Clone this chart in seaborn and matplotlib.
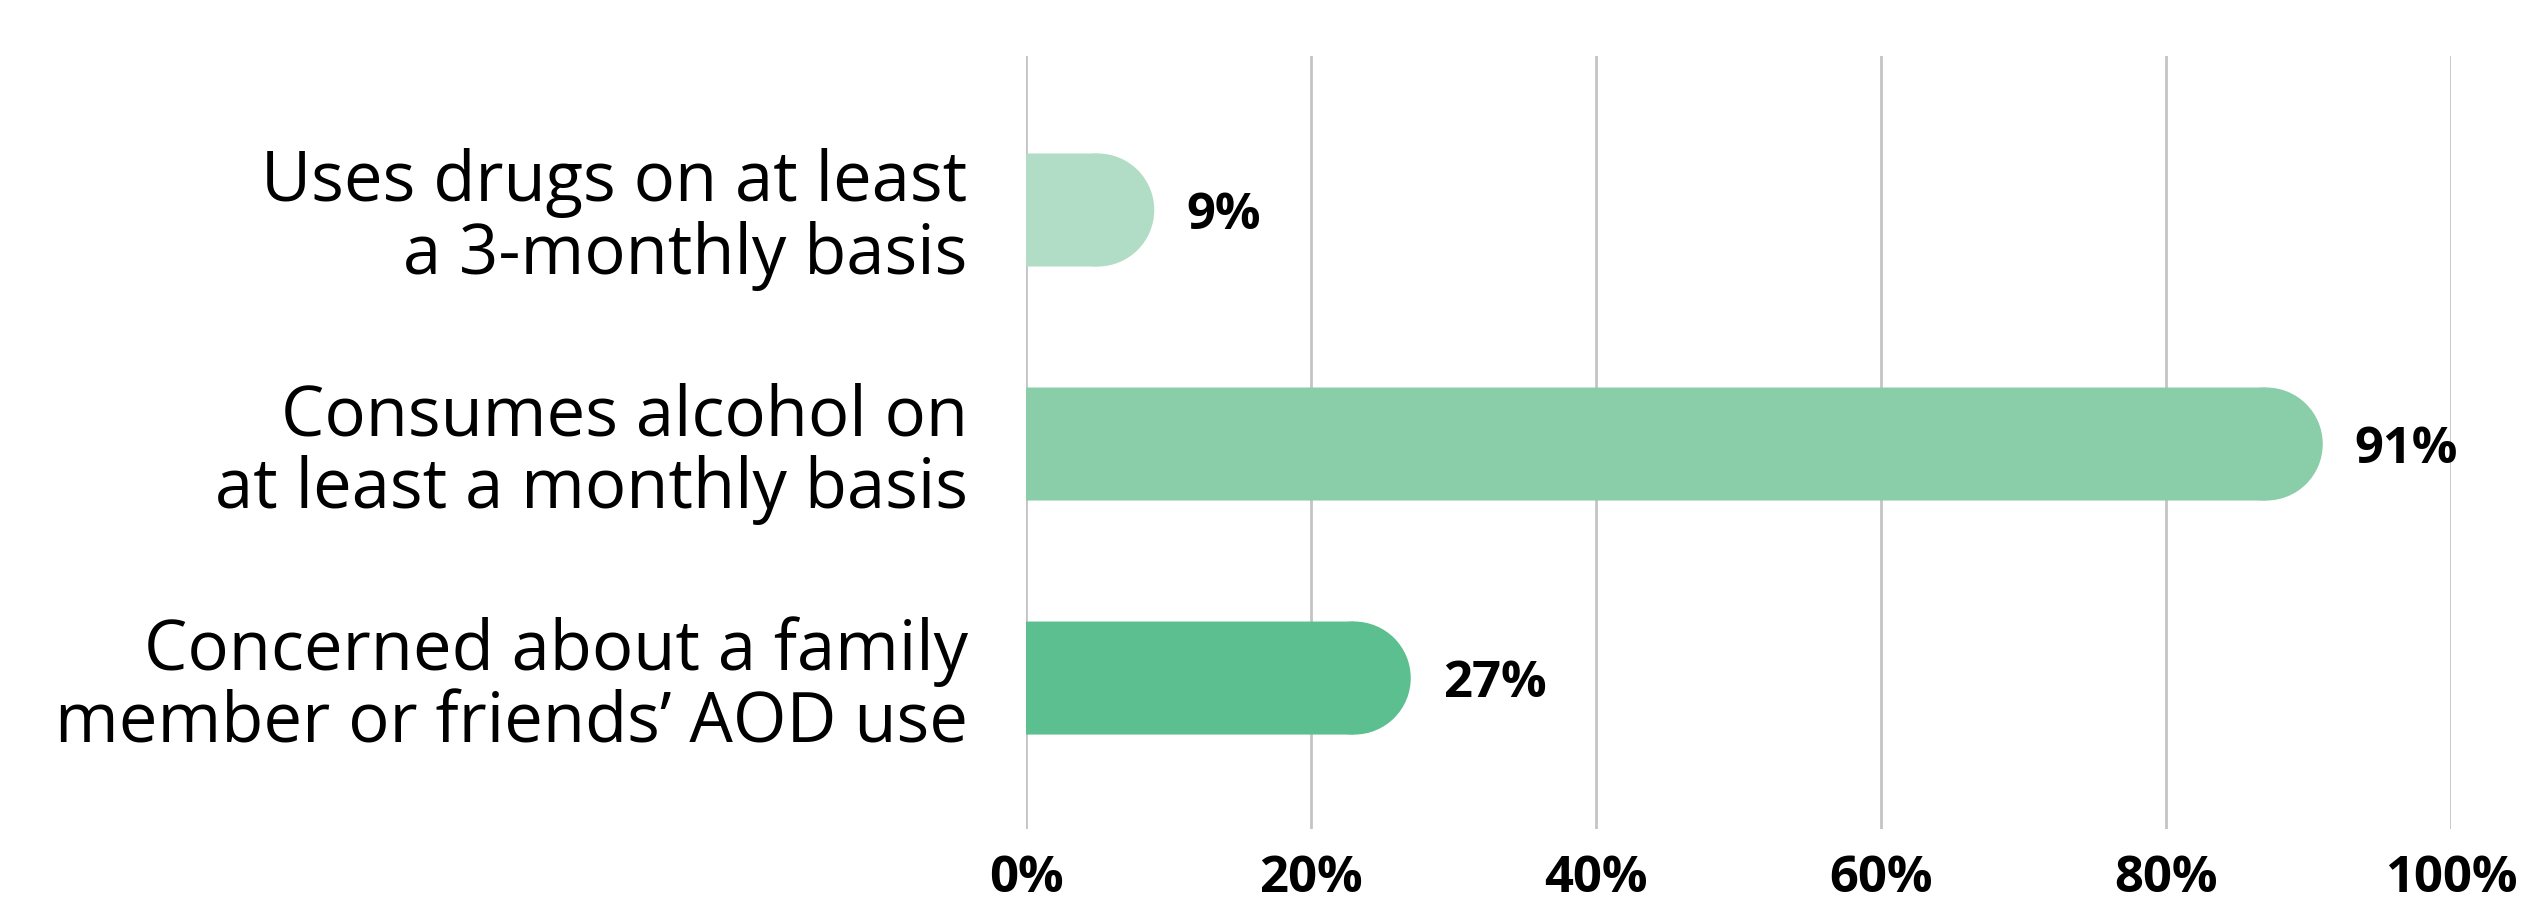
import matplotlib
matplotlib.use("Agg")
import matplotlib.pyplot as plt
import seaborn as sns
from matplotlib.patches import Ellipse

categories = [
    "Uses drugs on at least\na 3-monthly basis",
    "Consumes alcohol on\nat least a monthly basis",
    "Concerned about a family\nmember or friends\u2019 AOD use",
]
values = [9, 91, 27]
bar_colors = ["#b1ddc6", "#8acda9", "#5cbf8f"]
xticks = [0, 20, 40, 60, 80, 100]
xtick_labels = ["0%", "20%", "40%", "60%", "80%", "100%"]

sns.set_theme(style="white")
plt.rcParams["font.family"] = ["Open Sans", "DejaVu Sans"]

W, H = 2523, 910
fig = plt.figure(figsize=(W / 100, H / 100), dpi=100)
ax = fig.add_axes([1026 / W, 81 / H, (2451 - 1026) / W, (829 - 56) / H])

bar_h = 0.483
sns.barplot(x=values, y=categories, hue=categories, palette=bar_colors,
            legend=False, width=bar_h, ax=ax, orient="h", saturation=1)

ax.set_xlim(0, 100)
ax.set_ylim(2.645, -0.658)

# give each bar a semicircular right end (circle in pixel space)
fig.canvas.draw()
px_per_x = ax.transData.transform((1, 0))[0] - ax.transData.transform((0, 0))[0]
px_per_y = abs(ax.transData.transform((0, 1))[1] - ax.transData.transform((0, 0))[1])
for p in list(ax.patches):
    x0, y0 = p.get_x(), p.get_y()
    w, h = p.get_width(), p.get_height()
    rx = (h * px_per_y / 2) / px_per_x
    p.set_width(w - rx)
    p.set_edgecolor("none")
    p.set_linewidth(0)
    p.set_snap(False)
    p.set_zorder(3)
    cap = Ellipse((x0 + w - rx, y0 + h / 2), 2 * rx, h,
                  facecolor=p.get_facecolor(), edgecolor="none", linewidth=0,
                  zorder=3)
    cap.set_snap(False)
    ax.add_patch(cap)

for i, v in enumerate(values):
    ax.annotate(f"{v}%", (v, i), xytext=(32, -6), textcoords="offset pixels",
                va="center", ha="left", fontsize=36.5, fontweight="bold",
                color="black", zorder=4)

ax.set_xticks(xticks)
ax.set_xticklabels(xtick_labels, fontsize=36.5, fontweight="bold", color="black")
ax.tick_params(axis="x", length=0, pad=18)
ax.tick_params(axis="y", length=0, pad=42, labelsize=49.5, labelcolor="black")
for lab in ax.get_yticklabels():
    lab.set_linespacing(1.04)

ax.xaxis.grid(True, color="#c4c4c4", linewidth=2)
ax.yaxis.grid(False)
ax.set_axisbelow(True)
for s in ax.spines.values():
    s.set_visible(False)
ax.set_xlabel("")
ax.set_ylabel("")

fig.savefig("out.png", dpi=100, facecolor="white")
